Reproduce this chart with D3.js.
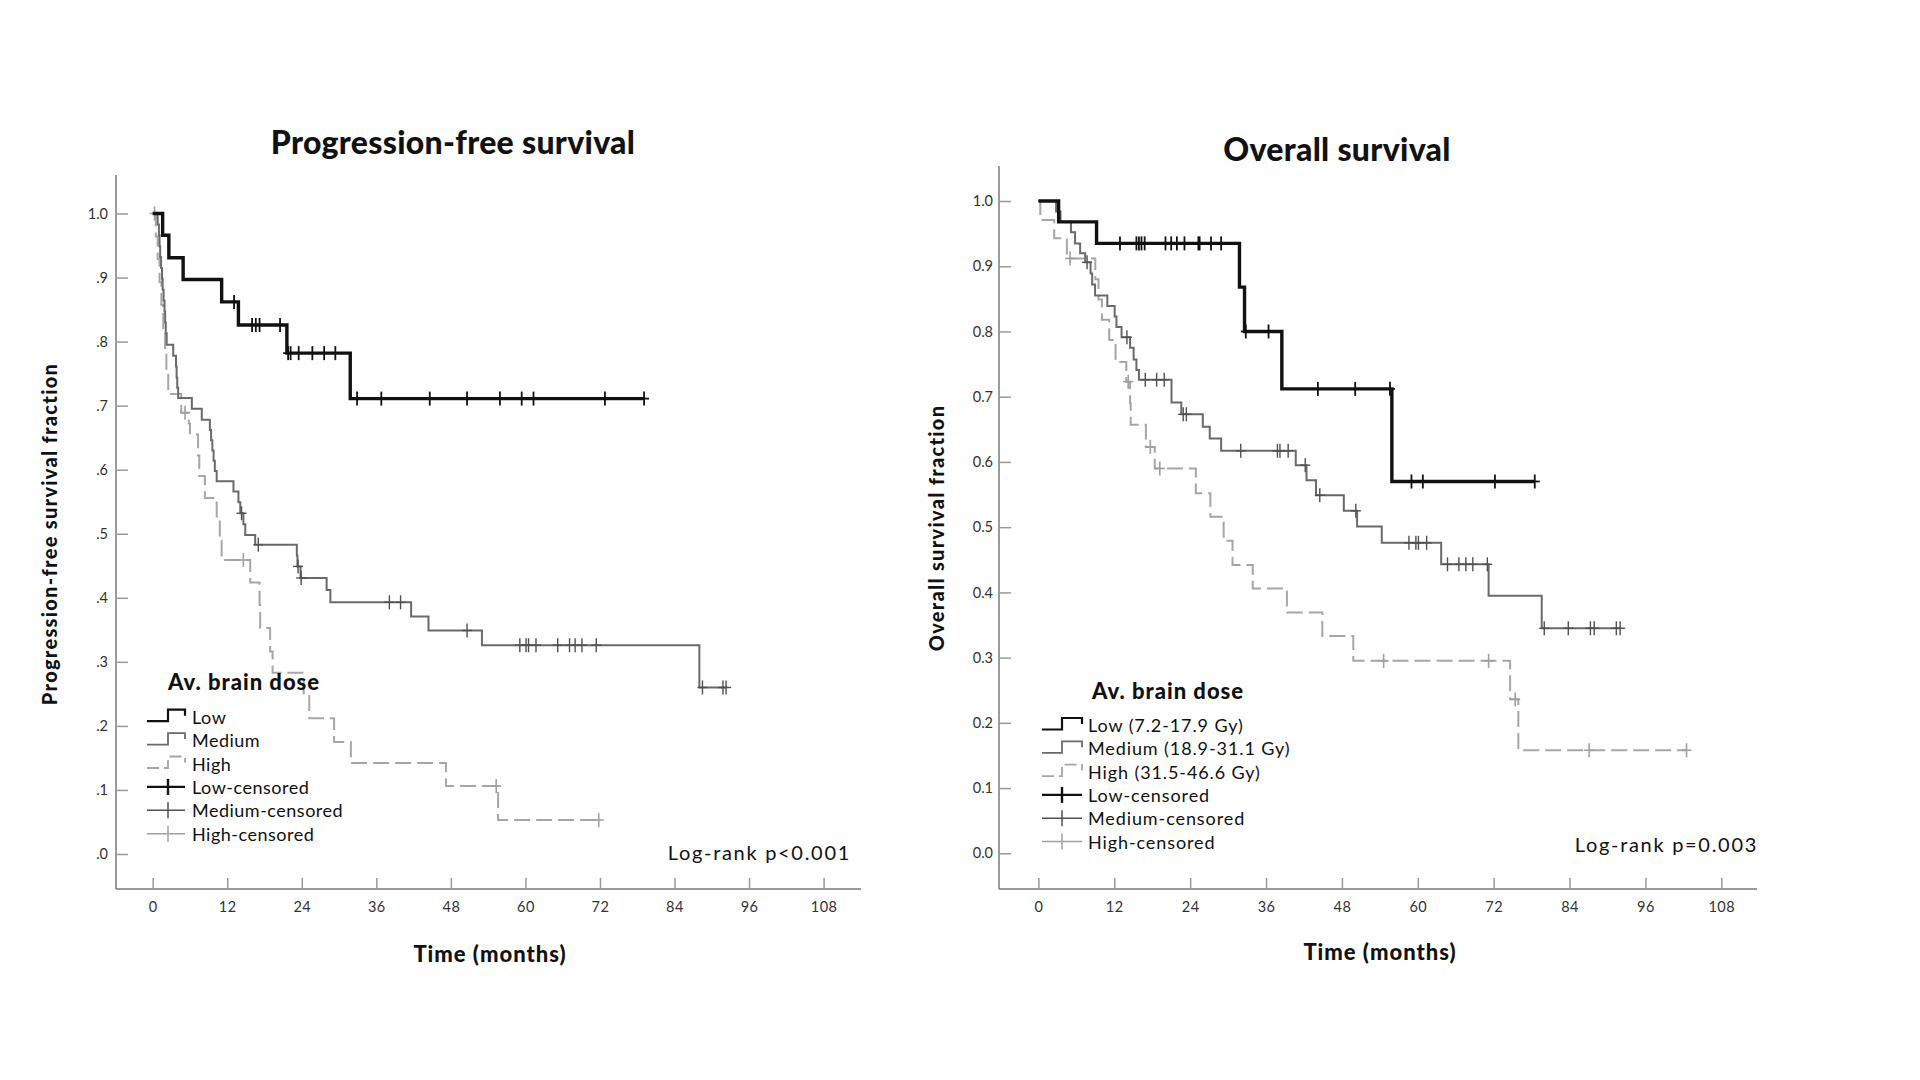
<!DOCTYPE html>
<html><head><meta charset="utf-8">
<script src="https://cdn.jsdelivr.net/npm/d3@7"></script>
<style>
body{margin:0;background:#fff}
svg{display:block}
text{font-family:Lato,'Open Sans',sans-serif}
</style>
</head><body>
<svg id="c" width="1920" height="1080"></svg>
<script>
// ---------- tick labels ----------
const monthTicks = [0,12,24,36,48,60,72,84,96,108];
const survTicks = [0,0.1,0.2,0.3,0.4,0.5,0.6,0.7,0.8,0.9,1.0];
const pfsTickLabels = [".0",".1",".2",".3",".4",".5",".6",".7",".8",".9","1.0"];
const osTickLabels = ["0.0","0.1","0.2","0.3","0.4","0.5","0.6","0.7","0.8","0.9","1.0"];

// ---------- PFS data: [month, survival fraction after step] ----------
const pfsLowSteps = [[0,1],[1.6,0.966],[2.6,0.931],[4.9,0.897],[11.1,0.862],[13.8,0.826],[21.6,0.782],[31.8,0.711]];
const pfsLowCensored = [13.1,16.0,16.6,17.2,20.5,21.8,22.2,23.5,25.7,27.6,29.4,32.9,36.8,44.6,50.6,55.9,59.4,61.3,72.8,79.1];

const pfsMedSteps = [[0,1],[0.8,0.983],[1.0,0.966],[1.1,0.949],[1.2,0.932],[1.35,0.915],[1.5,0.898],[1.6,0.881],[1.75,0.864],[1.9,0.847],[2.0,0.830],[2.1,0.813],[2.25,0.795],
  [3.3,0.778],[3.75,0.761],[3.85,0.744],[3.95,0.728],[4.1,0.712],[6.3,0.695],[7.9,0.678],
  [9.2,0.662],[9.4,0.646],[9.6,0.630],[9.8,0.614],[10.0,0.598],[10.3,0.582],
  [13.0,0.566],[13.8,0.549],[14.1,0.532],[14.6,0.515],[14.9,0.498],[16.5,0.483],
  [23.2,0.466],[23.3,0.449],[23.8,0.431],[28.0,0.412],[28.6,0.393],
  [41.6,0.371],[44.4,0.349],[53.0,0.326],[88.0,0.260]];
const pfsMedCensored = [14.3,17.0,23.4,23.9,38.1,39.9,50.6,59.1,60.1,60.5,61.7,65.2,67.1,68.0,69.1,71.4,88.5,91.8,92.3];

const pfsHighSteps = [[0,1],[0.5,0.964],[0.8,0.929],[1.1,0.893],[1.4,0.857],[1.7,0.821],[2.0,0.786],[2.2,0.750],[2.5,0.718],
  [4.6,0.689],[5.8,0.672],[6.0,0.655],[7.3,0.622],[7.5,0.590],[8.4,0.556],[10.3,0.522],[10.8,0.489],[11.1,0.459],
  [15.7,0.424],[17.2,0.389],[17.3,0.353],[18.9,0.316],[19.3,0.283],[24.3,0.247],[25.2,0.212],[29.2,0.175],
  [31.9,0.142],[47.2,0.106],[55.6,0.053]];
const pfsHighCensored = [0.3,5.2,14.6,55.3,71.8];

// ---------- OS data ----------
const osLowSteps = [[0,1],[3.2,0.968],[9.2,0.935],[31.8,0.868],[32.6,0.800],[38.5,0.712],[55.9,0.570]];
const osLowCensored = [12.9,15.5,15.9,16.3,16.8,20.1,21.0,21.9,23.1,25.3,25.5,27.3,28.9,32.8,36.4,44.2,50.1,55.6,59.0,60.8,72.2,78.5];

const osMedSteps = [[0,1],[2.8,0.984],[3.5,0.968],[5.15,0.952],[5.8,0.935],[6.6,0.920],[7.4,0.906],[8.25,0.889],[8.5,0.872],[8.96,0.855],
  [10.9,0.839],[12.06,0.823],[12.34,0.807],[13.15,0.791],[14.5,0.775],[15.06,0.757],[15.5,0.741],[15.9,0.726],
  [21.05,0.691],[22.6,0.673],[26.0,0.654],[27.1,0.636],[28.9,0.617],[40.7,0.595],[42.4,0.572],[43.9,0.549],
  [48.3,0.525],[50.4,0.501],[54.3,0.476],[63.7,0.443],[71.2,0.395],[79.6,0.345]];
const osMedCensored = [7.7,14.0,16.9,18.7,19.9,22.9,23.4,32.0,37.8,38.2,39.5,42.2,44.5,50.2,58.6,59.7,60.1,61.4,64.7,66.5,67.6,68.7,71.0,80.0,83.8,87.3,87.9,91.4,92.0];

const osHighSteps = [[0,1],[0.3,0.971],[2.5,0.943],[4.5,0.912],[9.0,0.880],[9.5,0.849],[10.05,0.818],[11.2,0.787],[12.2,0.753],
  [13.9,0.723],[14.5,0.690],[14.6,0.657],[17.0,0.623],[18.4,0.590],[24.9,0.552],[27.2,0.516],[29.3,0.479],[30.7,0.442],
  [33.9,0.406],[39.3,0.369],[44.9,0.333],[49.8,0.295],[74.6,0.236],[75.9,0.158]];
const osHighCensored = [5.0,14.2,17.7,19.2,54.6,71.2,75.4,87.1,102.5];

const pfsLegendLabels = ["Low","Medium","High","Low-censored","Medium-censored","High-censored"];
const osLegendLabels = ["Low (7.2-17.9 Gy)","Medium (18.9-31.1 Gy)","High (31.5-46.6 Gy)","Low-censored","Medium-censored","High-censored"];

// ---------- styles ----------
const styles = {
  low:  {stroke:"#111", width:3.4, dash:null, cStroke:"#111", cWidth:1.8, cHalf:7},
  med:  {stroke:"#6a6a6a", width:2, dash:null, cStroke:"#505050", cWidth:1.4, cHalf:7},
  high: {stroke:"#a6a6a6", width:2, dash:"16,6", cStroke:"#a0a0a0", cWidth:1.6, cHalf:7}
};

const svg = d3.select("#c");

function levelAt(steps, t){
  let v = steps[0][1];
  for(const s of steps){ if(s[0] <= t) v = s[1]; }
  return v;
}

function panel(cfg){
  const g = svg.append("g");
  const x = d3.scaleLinear().domain([0,108]).range(cfg.xr);
  const y = d3.scaleLinear().domain([0,1]).range(cfg.yr);

  // axis lines
  g.append("line").attr("x1",cfg.axX).attr("x2",cfg.axX).attr("y1",cfg.axTop).attr("y2",cfg.axY)
    .attr("stroke","#7a7a7a").attr("stroke-width",1.5);
  g.append("line").attr("x1",cfg.axX).attr("x2",cfg.axRight).attr("y1",cfg.axY).attr("y2",cfg.axY)
    .attr("stroke","#7a7a7a").attr("stroke-width",1.5);

  const xa = g.append("g").attr("transform",`translate(0,${cfg.axY})`)
    .call(d3.axisBottom(x).tickValues(monthTicks).tickSize(-11).tickPadding(13).tickFormat(d=>d));
  xa.select(".domain").remove();
  xa.selectAll("line").attr("stroke","#9a9a9a").attr("stroke-width",1.5);
  xa.selectAll("text").attr("fill","#333").style("font-size","14.5px").style("letter-spacing","0.5px");

  const ya = g.append("g").attr("transform",`translate(${cfg.axX},0)`)
    .call(d3.axisLeft(y).tickValues(survTicks).tickSize(-12).tickPadding(cfg.yPad).tickFormat((d,i)=>cfg.yLabels[i]));
  ya.select(".domain").remove();
  ya.selectAll("line").attr("stroke","#9a9a9a").attr("stroke-width",1.5);
  ya.selectAll("text").attr("fill","#333").style("font-size","14.5px");

  // curves (draw high first so low is on top)
  const line = d3.line().x(d=>x(d[0])).y(d=>y(d[1])).curve(d3.curveStepAfter);
  cfg.series.slice().reverse().forEach(s=>{
    const st = styles[s.key];
    const end = d3.max(s.cens);
    const pts = s.steps.concat([[end, s.steps[s.steps.length-1][1]]]);
    g.append("path").attr("d",line(pts)).attr("fill","none")
      .attr("stroke",st.stroke).attr("stroke-width",st.width)
      .attr("stroke-dasharray",st.dash).attr("stroke-linejoin","miter");
    const cg = g.append("g");
    s.cens.forEach(t=>{
      const cx = x(t), cy = y(levelAt(s.steps,t));
      cg.append("line").attr("x1",cx).attr("x2",cx).attr("y1",cy-st.cHalf).attr("y2",cy+st.cHalf)
        .attr("stroke",st.cStroke).attr("stroke-width",st.cWidth);
      cg.append("line").attr("x1",cx-5).attr("x2",cx+5).attr("y1",cy).attr("y2",cy)
        .attr("stroke",st.cStroke).attr("stroke-width",st.cWidth);
    });
  });

  // titles
  g.append("text").attr("x",cfg.titleX).attr("y",cfg.titleY).attr("text-anchor","middle")
    .attr("dominant-baseline","central").style("font-size","32px").style("font-weight","900").attr("fill","#111")
    .style("letter-spacing","0.3px").text(cfg.title);
  g.append("text").attr("transform",`translate(${cfg.ylabX},${cfg.ylabY}) rotate(-90)`).attr("text-anchor","middle")
    .attr("dominant-baseline","central").style("font-size","20px").style("font-weight","900").attr("fill","#111")
    .style("letter-spacing","1.3px").text(cfg.ylab);
  g.append("text").attr("x",cfg.xlabX).attr("y",cfg.xlabY).attr("text-anchor","middle")
    .attr("dominant-baseline","central").style("font-size","22px").style("font-weight","900").attr("fill","#111")
    .style("letter-spacing","1px").text("Time (months)");
  g.append("text").attr("x",cfg.lrX).attr("y",cfg.lrY).attr("text-anchor","end")
    .attr("dominant-baseline","central").style("font-size","20px").style("font-weight","400").attr("fill","#111")
    .style("letter-spacing","1.7px").text(cfg.logrank);

  // legend
  const L = cfg.legend;
  g.append("text").attr("x",L.titleX).attr("y",L.titleY).attr("dominant-baseline","central")
    .style("font-size","22px").style("font-weight","900").attr("fill","#111")
    .style("letter-spacing","1px").text("Av. brain dose");
  const keys = ["low","med","high"];
  L.labels.forEach((lab,i)=>{
    const cy = L.rowY + i*L.rowH;
    g.append("text").attr("x",L.textX).attr("y",cy).attr("dominant-baseline","central")
      .style("font-size","18px").attr("fill","#111").style("letter-spacing",L.ls).text(lab);
    const st = styles[keys[i%3]];
    if(i<3){
      const p = `M${L.sx0},${cy+4.5}H${L.sxm}V${cy-7}H${L.sx1}V${cy-1}`;
      g.append("path").attr("d",p).attr("fill","none").attr("stroke",st.stroke)
        .attr("stroke-width",i===0?2.2:1.8).attr("stroke-dasharray",i===2?"12,5":null);
    } else {
      g.append("line").attr("x1",L.sx0).attr("x2",L.sx1).attr("y1",cy).attr("y2",cy)
        .attr("stroke",st.cStroke).attr("stroke-width",i===3?2.4:1.5);
      g.append("line").attr("x1",L.sxm).attr("x2",L.sxm).attr("y1",cy-8).attr("y2",cy+8)
        .attr("stroke",st.cStroke).attr("stroke-width",i===3?2.4:1.5);
    }
  });
}

panel({
  xr:[152.7,823.6], yr:[854,213.5], axX:116, axTop:175, axY:889, axRight:861, yPad:8,
  yLabels:pfsTickLabels, title:"Progression-free survival", titleX:453, titleY:141,
  ylab:"Progression-free survival fraction", ylabX:49, ylabY:534, xlabX:490, xlabY:953,
  logrank:"Log-rank p<0.001", lrX:851, lrY:852,
  series:[{key:"low",steps:pfsLowSteps,cens:pfsLowCensored},{key:"med",steps:pfsMedSteps,cens:pfsMedCensored},{key:"high",steps:pfsHighSteps,cens:pfsHighCensored}],
  legend:{labels:pfsLegendLabels, titleX:168, titleY:681, textX:192, rowY:716.7, rowH:23.4, sx0:147, sxm:168, sx1:185, ls:"0.5px"}
});

panel({
  xr:[1038.4,1721.3], yr:[853.3,201], axX:999, axTop:166, axY:889, axRight:1757, yPad:6,
  yLabels:osTickLabels, title:"Overall survival", titleX:1337, titleY:148,
  ylab:"Overall survival fraction", ylabX:936, ylabY:528, xlabX:1380, xlabY:951,
  logrank:"Log-rank p=0.003", lrX:1758, lrY:844,
  series:[{key:"low",steps:osLowSteps,cens:osLowCensored},{key:"med",steps:osMedSteps,cens:osMedCensored},{key:"high",steps:osHighSteps,cens:osHighCensored}],
  legend:{labels:osLegendLabels, titleX:1092, titleY:690, textX:1088, rowY:725, rowH:23.3, sx0:1042, sxm:1062, sx1:1082, ls:"0.9px"}
});
</script>
</body></html>
